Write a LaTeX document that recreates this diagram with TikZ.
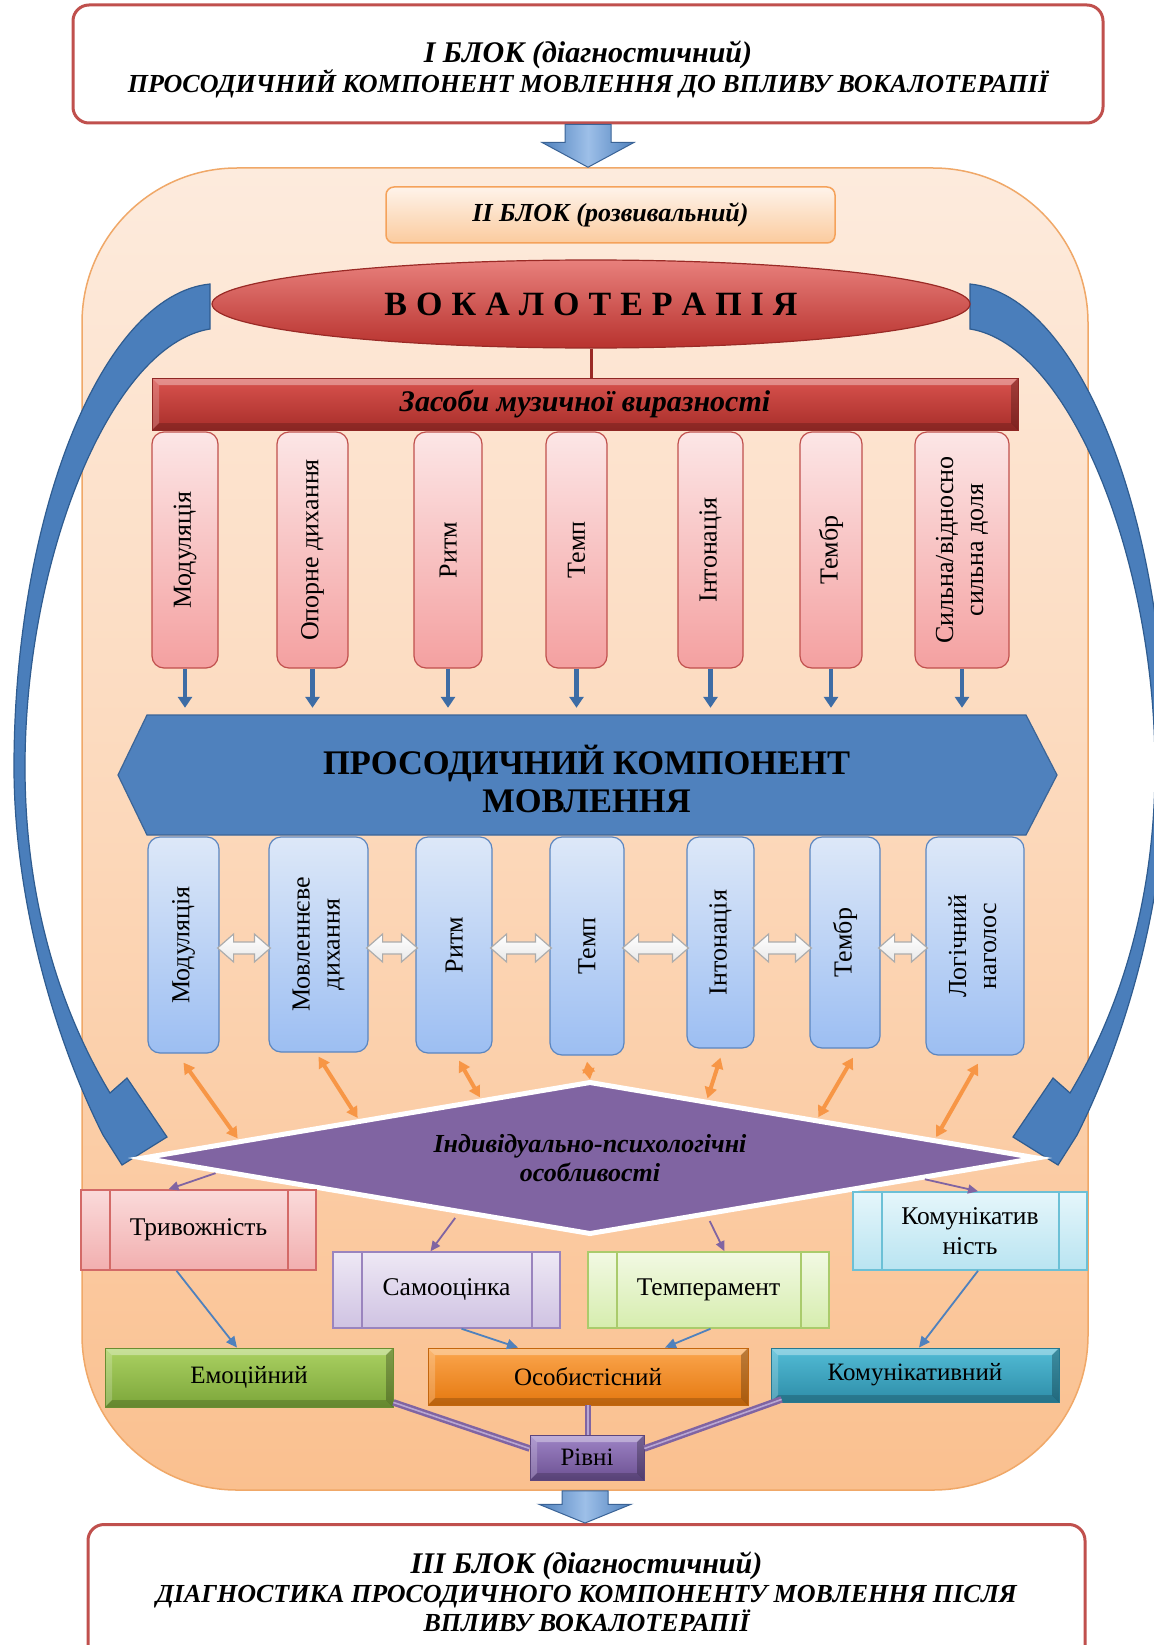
\documentclass[tikz,border=0pt]{standalone}
\usepackage{fontspec}
\setmainfont{Liberation Serif}
\usetikzlibrary{arrows.meta,shapes.geometric,calc}
\definecolor{boxred}{HTML}{C0504D}
\definecolor{arrB}{HTML}{4F81BD}
\definecolor{arrBL}{HTML}{9DBFE8}
\definecolor{arrBD}{HTML}{3A6396}
\definecolor{contTop}{HTML}{FDEBDD}
\definecolor{contMid}{HTML}{FCD8BA}
\definecolor{contBot}{HTML}{FAC08F}
\definecolor{contLine}{HTML}{F0A868}
\definecolor{btwoTop}{HTML}{FEF3EA}
\definecolor{btwoBot}{HTML}{FBCB9E}
\definecolor{btwoLine}{HTML}{F5A25A}
\definecolor{ellTop}{HTML}{E8807C}
\definecolor{ellBot}{HTML}{B8322E}
\definecolor{ellLine}{HTML}{9A2A26}
\definecolor{barTop}{HTML}{D9534E}
\definecolor{barBot}{HTML}{A82E2A}
\definecolor{pinkTop}{HTML}{FCE6E6}
\definecolor{pinkBot}{HTML}{F4A0A0}
\definecolor{pinkLine}{HTML}{C0504D}
\definecolor{blueTop}{HTML}{DDE8F8}
\definecolor{blueBot}{HTML}{9CBEF2}
\definecolor{blueLine}{HTML}{5B86C0}
\definecolor{hexFill}{HTML}{4F81BD}
\definecolor{hexLine}{HTML}{3C6597}
\definecolor{smallB}{HTML}{3D6CA5}
\definecolor{orangeA}{HTML}{F79646}
\definecolor{purp}{HTML}{8064A2}
\definecolor{purpL}{HTML}{B9A7D2}
\definecolor{bigB}{HTML}{4A7EBB}
\definecolor{bigBL}{HTML}{2F5C90}
\definecolor{trvTop}{HTML}{FADADA}
\definecolor{trvBot}{HTML}{F2AFAF}
\definecolor{trvLine}{HTML}{D36A67}
\definecolor{samTop}{HTML}{EEE8F5}
\definecolor{samBot}{HTML}{CFC2E2}
\definecolor{samLine}{HTML}{9A84BE}
\definecolor{temTop}{HTML}{F2F9E3}
\definecolor{temBot}{HTML}{D6EDAE}
\definecolor{temLine}{HTML}{AACB6C}
\definecolor{komTop}{HTML}{E5F6FB}
\definecolor{komBot}{HTML}{B9E4F1}
\definecolor{komLine}{HTML}{6CC0D6}
\definecolor{emoTop}{HTML}{ABD162}
\definecolor{emoBot}{HTML}{7CA63A}
\definecolor{osoTop}{HTML}{FBA64E}
\definecolor{osoBot}{HTML}{E5780F}
\definecolor{knTop}{HTML}{52BCD6}
\definecolor{knBot}{HTML}{2E8DA8}
\definecolor{rivTop}{HTML}{9E84C6}
\definecolor{rivBot}{HTML}{6C5192}
\newcommand\ls{\hspace{9pt}}
\newcommand\blockarr[2]{\path[blockarrow] let \p1=(#1), \p2=(#2), \p3=($(#1)!0.42!(#2)$) in
  (\x1-23pt,\y1) -- (\x1+23pt,\y1) -- (\x1+23pt,\y3) -- (\x1+46pt,\y3) -- (\x1,\y2)
  -- (\x1-46pt,\y3) -- (\x1-23pt,\y3) -- cycle;}
\newcommand\lrarr[2]{\path[hollowarrow] let \p1=(#1.east), \p2=(#2.west) in
  (\x1-2pt,-948pt) -- (\x1+14pt,-934pt) -- (\x1+14pt,-942pt) -- (\x2-14pt,-942pt)
  -- (\x2-14pt,-934pt) -- (\x2+2pt,-948pt) -- (\x2-14pt,-962pt) -- (\x2-14pt,-954pt)
  -- (\x1+14pt,-954pt) -- (\x1+14pt,-962pt) -- cycle;}
\tikzset{
  titlebox/.style={draw=boxred, line width=3pt, rounded corners=16pt, fill=white, inner sep=0pt},
  titletext/.style={align=center, font=\fontsize{26pt}{30pt}\selectfont\bfseries\itshape},
  blockarrow/.style={draw=arrBD, line width=1pt, left color=arrB, right color=arrB, middle color=arrBL},
  container/.style={draw=contLine, line width=1.5pt, rounded corners=155pt, top color=contTop,
    bottom color=contBot, middle color=contMid, inner sep=0pt},
  btwobox/.style={draw=btwoLine, line width=1.5pt, rounded corners=8pt, top color=btwoTop,
    bottom color=btwoBot, inner sep=0pt, font=\fontsize{26pt}{30pt}\selectfont\bfseries\itshape},
  bevelbox/.style 2 args={top color=#1, bottom color=#2, draw=#2!85!black, line width=0.8pt, inner sep=0pt,
    path picture={
      \fill[white,opacity=0.35] (path picture bounding box.north west) -- (path picture bounding box.north east)
        -- ([xshift=-7pt,yshift=-7pt]path picture bounding box.north east)
        -- ([xshift=7pt,yshift=-7pt]path picture bounding box.north west) -- cycle;
      \fill[white,opacity=0.2] (path picture bounding box.north west)
        -- ([xshift=7pt,yshift=-7pt]path picture bounding box.north west)
        -- ([xshift=7pt,yshift=7pt]path picture bounding box.south west)
        -- (path picture bounding box.south west) -- cycle;
      \fill[black,opacity=0.18] (path picture bounding box.south west)
        -- ([xshift=7pt,yshift=7pt]path picture bounding box.south west)
        -- ([xshift=-7pt,yshift=7pt]path picture bounding box.south east)
        -- (path picture bounding box.south east) -- cycle;
      \fill[black,opacity=0.25] (path picture bounding box.south east)
        -- ([xshift=-7pt,yshift=7pt]path picture bounding box.south east)
        -- ([xshift=-7pt,yshift=-7pt]path picture bounding box.north east)
        -- (path picture bounding box.north east) -- cycle;
    }},
  pinkbox/.style={minimum height=236pt, rounded corners=12pt, draw=pinkLine, line width=1.2pt,
    top color=pinkTop, bottom color=pinkBot, inner sep=0pt, font=\fontsize{26pt}{30pt}\selectfont},
  bluebox/.style={rounded corners=12pt, draw=blueLine, line width=1.2pt,
    top color=blueTop, bottom color=blueBot, inner sep=0pt, font=\fontsize{26pt}{30pt}\selectfont},
  pinkarr/.style={draw=smallB, line width=4.5pt, -{Triangle[length=11pt,width=14pt]}, shorten >=11pt},
  hollowarrow/.style={draw=gray!65, line width=1.2pt, top color=white, bottom color=gray!18},
  orarr/.style={draw=orangeA, line width=4pt, {Triangle[length=11pt,width=12pt]}-{Triangle[length=11pt,width=12pt]}},
  purarr/.style={draw=purp, line width=1.8pt, -{Triangle[length=10pt,width=9pt]}},
  bluearr/.style={draw=arrB, line width=1.8pt, -{Triangle[length=11pt,width=10pt]}},
  dbl/.style={draw=purp, line width=2.5pt, double=purpL, double distance=1.6pt},
  procbox/.style n args={3}{draw=#3, line width=1.5pt, top color=#1, bottom color=#2, inner sep=0pt,
    align=center, font=\fontsize{25.5pt}{30pt}\selectfont,
    path picture={
      \draw[#3, line width=1.5pt] ([xshift=29pt]path picture bounding box.north west)
        -- ([xshift=29pt]path picture bounding box.south west);
      \draw[#3, line width=1.5pt] ([xshift=-28pt]path picture bounding box.north east)
        -- ([xshift=-28pt]path picture bounding box.south east);}},
  lvltext/.style={font=\fontsize{25pt}{30pt}\selectfont},
  bigarrow/.pic={
    \filldraw[fill=bigB, draw=bigBL, line width=1.2pt]
      (210,284) .. controls (100,295) and (14,520) .. (14,767)
      .. controls (14,900) and (55,1040) .. (103,1135)
      -- (122,1165) -- (167,1137) -- (127,1078) -- (110,1093)
      .. controls (60,1010) and (25,900) .. (25,767)
      .. controls (25,560) and (110,345) .. (210,329) -- cycle;}
}
\begin{document}
\begin{tikzpicture}[x=1pt,y=-1pt]
\fill[white] (0,0) rectangle (1153,1645);
\useasboundingbox (0,0) rectangle (1153,1645);

% big container (block II)
\node[container, minimum width=1006pt, minimum height=1322pt] (cont) at (585,829) {};

% block I and III
\node[titlebox, minimum width=1030pt, minimum height=118pt] (top) at (588,64) {};
\node[titletext] (toptxt) at (588,69)
  {{\fontsize{30pt}{34pt}\selectfont І БЛОК (діагностичний)}\\ПРОСОДИЧНИЙ КОМПОНЕНТ МОВЛЕННЯ ДО ВПЛИВУ ВОКАЛОТЕРАПІЇ};
\node[titlebox, minimum width=997pt, minimum height=142pt, anchor=north] (bot) at (586.5,1523) {};
\node[titletext, font=\fontsize{26pt}{29pt}\selectfont\bfseries\itshape] (bottxt) at (586.5,1592)
  {{\fontsize{30pt}{34pt}\selectfont ІІІ БЛОК (діагностичний)}\\ДІАГНОСТИКА ПРОСОДИЧНОГО КОМПОНЕНТУ МОВЛЕННЯ ПІСЛЯ\\ВПЛИВУ ВОКАЛОТЕРАПІЇ};

\blockarr{top.south}{cont.north}
\blockarr{cont.south}{bot.north}

% block II title
\node[btwobox, minimum width=449pt, minimum height=56pt] (btwo) at (610.5,215) {ІІ БЛОК (розвивальний)};

% big curved arrows
\pic at (0,0) {bigarrow};
\pic[xscale=-1] at (1180,0) {bigarrow};

% vocal therapy
\node[ellipse, minimum width=758pt, minimum height=88pt, inner sep=0pt, top color=ellTop, bottom color=ellBot,
  draw=ellLine, line width=1.2pt, font=\fontsize{34pt}{40pt}\selectfont\bfseries] (voc) at (591,304)
  {В\ls О\ls К\ls А\ls Л\ls О\ls Т\ls Е\ls Р\ls А\ls П\ls І\ls Я};
\node[bevelbox={barTop}{barBot}, minimum width=866pt, minimum height=52pt,
  font=\fontsize{30pt}{34pt}\selectfont\bfseries\itshape] (bar) at (585,404) {Засоби музичної виразності};
\draw[ellLine, line width=3pt] (voc.south) -- (voc.south |- bar.north);

% means of musical expressiveness
\node[pinkbox, minimum width=66pt] (p1) at (185,550) {\rotatebox{90}{Модуляція}};
\node[pinkbox, minimum width=71pt] (p2) at (312.5,550) {\rotatebox{90}{Опорне дихання}};
\node[pinkbox, minimum width=68pt] (p3) at (448,550) {\rotatebox{90}{Ритм}};
\node[pinkbox, minimum width=61pt] (p4) at (576.5,550) {\rotatebox{90}{Темп}};
\node[pinkbox, minimum width=65pt] (p5) at (710.5,550) {\rotatebox{90}{Інтонація}};
\node[pinkbox, minimum width=62pt] (p6) at (831,550) {\rotatebox{90}{Тембр}};
\node[pinkbox, minimum width=94pt] (p7) at (962,550)
  {\rotatebox{90}{\begin{tabular}{@{}c@{}}Сильна/відносно\\сильна доля\end{tabular}}};

% prosodic component
\fill[hexFill, draw=hexLine, line width=1.2pt] (118,775) -- (147,715) -- (1026,715) -- (1057,775)
  -- (1026,835) -- (147,835) -- cycle;
\node[minimum width=879pt, minimum height=120pt, inner sep=0pt, align=center,
  font=\fontsize{34.5pt}{38pt}\selectfont\bfseries] (hex) at (586.5,779) {ПРОСОДИЧНИЙ КОМПОНЕНТ\\МОВЛЕННЯ};
\foreach \i in {1,...,7} \draw[pinkarr] (p\i.south) -- (p\i.south |- hex.north);

% components of speech prosody
\node[bluebox, minimum width=71pt, minimum height=216pt] (b1) at (183.5,945) {\rotatebox{90}{Модуляція}};
\node[bluebox, minimum width=99pt, minimum height=215pt] (b2) at (318.5,944.5)
  {\rotatebox{90}{\begin{tabular}{@{}c@{}}Мовленнєве\\дихання\end{tabular}}};
\node[bluebox, minimum width=76pt, minimum height=216pt] (b3) at (454,945) {\rotatebox{90}{Ритм}};
\node[bluebox, minimum width=74pt, minimum height=218pt] (b4) at (587,946) {\rotatebox{90}{Темп}};
\node[bluebox, minimum width=67pt, minimum height=211pt] (b5) at (720.5,942.5) {\rotatebox{90}{Інтонація}};
\node[bluebox, minimum width=70pt, minimum height=211pt] (b6) at (845,942.5) {\rotatebox{90}{Тембр}};
\node[bluebox, minimum width=98pt, minimum height=218pt] (b7) at (975,946)
  {\rotatebox{90}{\begin{tabular}{@{}c@{}}Логічний\\наголос\end{tabular}}};
\lrarr{b1}{b2} \lrarr{b2}{b3} \lrarr{b3}{b4} \lrarr{b4}{b5} \lrarr{b5}{b6} \lrarr{b6}{b7}

% individual psychological features
\node[diamond, aspect=5.9, minimum width=894pt, minimum height=151pt, inner sep=0pt, outer sep=0pt,
  fill=purp, draw=white, line width=5pt, miter limit=10, align=center,
  font=\fontsize{26pt}{29pt}\selectfont\bfseries\itshape] (dia) at (590,1158)
  {Індивідуально-психологічні\\особливості};

\draw[orarr, shorten >=4pt] ([yshift=-9pt]b1.south) -- ($(dia.west)!0.217!(dia.north)$);
\draw[orarr, shorten >=4pt] ([yshift=-4pt]b2.south) -- ($(dia.west)!0.485!(dia.north)$);
\draw[orarr, shorten >=4pt] ([xshift=5pt,yshift=-7pt]b3.south) -- ($(dia.west)!0.758!(dia.north)$);
\draw[orarr] ([yshift=-6pt]b4.south) -- ([yshift=3pt]dia.north);
\draw[orarr, shorten >=4pt] ([yshift=-9pt]b5.south) -- ($(dia.north)!0.26!(dia.east)$);
\draw[orarr, shorten >=4pt] ([xshift=8pt,yshift=-9pt]b6.south) -- ($(dia.north)!0.506!(dia.east)$);
\draw[orarr, shorten >=4pt] ([xshift=3pt,yshift=-8pt]b7.south) -- ($(dia.north)!0.77!(dia.east)$);

% features
\node[procbox={trvTop}{trvBot}{trvLine}, minimum width=235pt, minimum height=80pt] (trv) at (198.5,1230) {Тривожність};
\node[procbox={samTop}{samBot}{samLine}, minimum width=227pt, minimum height=76pt] (sam) at (446.5,1290) {Самооцінка};
\node[procbox={temTop}{temBot}{temLine}, minimum width=241pt, minimum height=76pt] (tem) at (708.5,1290) {Темперамент};
\node[procbox={komTop}{komBot}{komLine}, minimum width=234pt, minimum height=78pt] (kom) at (970,1231) {Комунікатив\\ність};

\draw[purarr, shorten <=6pt] ($(dia.west)!0.175!(dia.south)$) -- ([xshift=-30pt]trv.north);
\draw[purarr, shorten <=6pt] ($(dia.south)!0.736!(dia.east)$) -- ([xshift=8pt]kom.north);
\draw[purarr, shorten <=8pt] ($(dia.west)!0.709!(dia.south)$) -- ([xshift=-16pt]sam.north);
\draw[purarr, shorten <=8pt] ($(dia.south)!0.26!(dia.east)$) -- ([xshift=16pt]tem.north);

% levels
\node[bevelbox={emoTop}{emoBot}, minimum width=288pt, minimum height=59pt, lvltext] (emo) at (249,1377.5) {Емоційний};
\node[bevelbox={osoTop}{osoBot}, minimum width=320pt, minimum height=57pt, lvltext] (oso) at (588,1376.5) {Особистісний};
\node[bevelbox={knTop}{knBot}, minimum width=288pt, minimum height=54pt, lvltext] (komn) at (915,1375) {Комунікативний};
\node[bevelbox={rivTop}{rivBot}, minimum width=114pt, minimum height=45pt, lvltext] (riv) at (587,1457.5) {Рівні};

\draw[bluearr] ([xshift=-22pt]trv.south) -- ([xshift=-12pt]emo.north);
\draw[bluearr] ([xshift=15pt]sam.south) -- ([xshift=-70pt]oso.north);
\draw[bluearr] ([xshift=2pt]tem.south) -- ([xshift=77pt]oso.north);
\draw[bluearr] ([xshift=8pt]kom.south) -- ([xshift=4pt]komn.north);

\draw[dbl] ([yshift=5pt]emo.south east) -- ([yshift=9pt]riv.west);
\draw[dbl] (oso.south) -- (oso.south |- riv.north);
\draw[dbl] ([xshift=11pt,yshift=3pt]komn.south west) -- ([yshift=9pt]riv.east);
\end{tikzpicture}
\end{document}
